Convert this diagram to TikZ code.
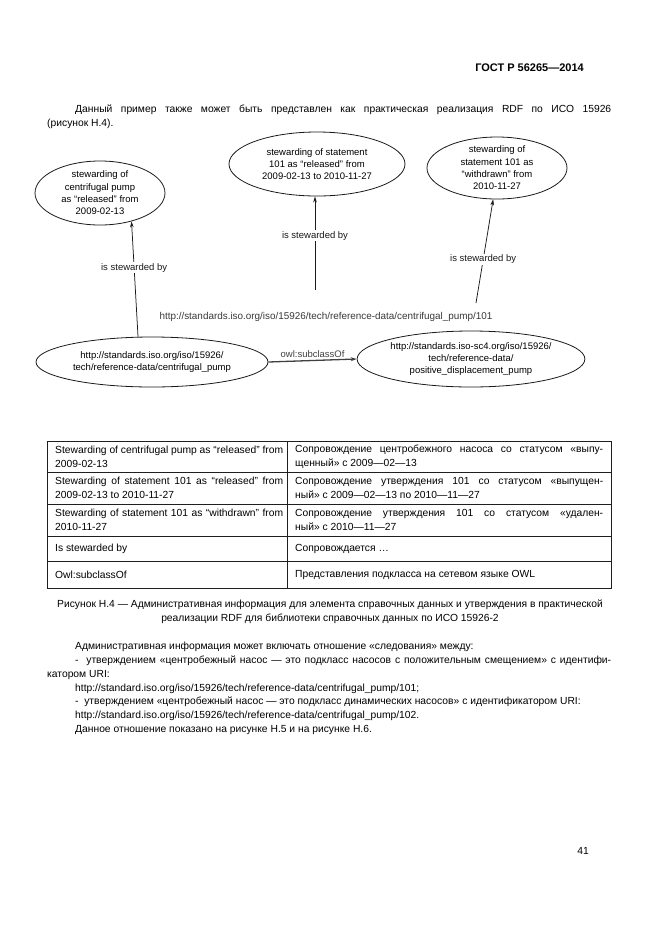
\documentclass[tikz,border=0pt]{standalone}
\usepackage{fontspec}
\setmainfont{Liberation Sans}
\usetikzlibrary{arrows.meta,shapes.geometric,positioning}
\definecolor{inkCol}{HTML}{1A1A1A}
\definecolor{uriCol}{HTML}{383838}
\definecolor{ruleCol}{HTML}{1F1F1F}
\newcommand{\dgfont}{\fontsize{9.5}{12.3}\selectfont}
\newcommand{\txfont}{\fontsize{10.3}{13.8}\selectfont}
\newcommand{\ind}{\hspace*{28pt}}
\tikzset{
  ent/.style={ellipse, draw=inkCol, line width=0.8pt, align=center, font=\dgfont,
              inner xsep=0pt, inner ysep=-9pt},
  rel/.style={-{Stealth[length=6pt,width=3.6pt]}, line width=0.75pt, inkCol},   % is stewarded by
  subarr/.style={-{Stealth[length=6pt,width=4pt]}, line width=1.3pt, black!75}, % owl:subclassOf
  rlbl/.style={fill=white, font=\dgfont, inner sep=1pt},
  uri/.style={font=\fontsize{9.9}{12}\selectfont, text=uriCol, inner sep=1pt},
  para/.style={font=\txfont, text width=564pt, align=justify, inner sep=0pt, anchor=north west},
  cell/.style={font=\txfont, text width=#1, align=justify, inner sep=0pt, anchor=west},
  tbl/.style={line width=0.8pt, ruleCol},
}

\begin{document}
\begin{tikzpicture}[x=1pt,y=-1pt]
  \useasboundingbox (0,0) rectangle (661,935);
  \def\L{47}\def\M{287}\def\R{611}

  % page head and text above the figure
  \node[font=\fontsize{11}{13}\selectfont\bfseries, anchor=east, inner sep=0pt] (head) at (584,68) {ГОСТ Р 56265—2014};
  \node[para] (intro) at (\L,105) {\noindent\ind Данный пример также может быть представлен как практическая реализация RDF по ИСО 15926\linebreak (рисунок Н.4).};

  % RDF graph
  \node[ent, minimum width=130pt, minimum height=64pt] (st1) at (100,193)
    {stewarding of\\centrifugal pump\\as “released” from\\2009-02-13};
  \node[ent, minimum width=176pt, minimum height=64pt] (st2) at (317,164)
    {stewarding of statement\\101 as “released” from\\2009-02-13 to 2010-11-27};
  \node[ent, minimum width=140pt, minimum height=62pt] (st3) at (497,168)
    {stewarding of\\statement 101 as\\“withdrawn” from\\2010-11-27};
  \node[ent, minimum width=232pt, minimum height=50pt] (cp) at (152,362)
    {http://standards.iso.org/iso/15926/\\tech/reference-data/centrifugal\_pump};
  \node[ent, minimum width=210pt, minimum height=56pt] (pd) at (471,359)
    {http://standards.iso-sc4.org/iso/15926/\\tech/reference-data/\\positive\_displacement\_pump};
  \node[uri] (stmt) at (326,317) {http://standards.iso.org/iso/15926/tech/reference-data/centrifugal\_pump/101};

  \coordinate (t2) at (315,290);
  \coordinate (t3) at (476,303);
  \draw[rel] (cp.119) -- (st1.318) node[rlbl, pos=0.6] {is stewarded by};
  \draw[rel] (t2) -- (t2 |- st2.south) node[rlbl, pos=0.58] {is stewarded by};
  \draw[rel] (t3) -- (st3.263) node[rlbl, pos=0.42] {is stewarded by};
  \draw[subarr] (cp.east) -- (pd.west) node[midway, above, font=\dgfont, inner sep=2pt] {owl:subclassOf};

  % legend table
  \draw[tbl] (\L,441) rectangle (\R,588);
  \foreach \y in {472,504,536,561}{\draw[tbl] (\L,\y) -- (\R,\y);}
  \draw[tbl] (\M,441) -- (\M,588);

  \node[cell=228pt] (e1) at (\L+8,456.5) {Stewarding of centrifugal pump as “released” from\linebreak 2009-02-13};
  \node[cell=308pt] (r1) at (\M+8,456.5) {Сопровождение центробежного насоса со статусом «выпу-\linebreak щенный» с 2009—02—13};
  \node[cell=228pt] (e2) at (\L+8,488) {Stewarding of statement 101 as “released” from\linebreak 2009-02-13 to 2010-11-27};
  \node[cell=308pt] (r2) at (\M+8,488) {Сопровождение утверждения 101 со статусом «выпущен-\linebreak ный» с 2009—02—13 по 2010—11—27};
  \node[cell=228pt] (e3) at (\L+8,520) {Stewarding of statement 101 as “withdrawn” from\linebreak 2010-11-27};
  \node[cell=308pt] (r3) at (\M+8,520) {Сопровождение утверждения 101 со статусом «удален-\linebreak ный» с 2010—11—27};
  \node[cell=228pt] (e4) at (\L+8,548.5) {Is stewarded by};
  \node[cell=308pt] (r4) at (\M+8,548.5) {Сопровождается …};
  \node[cell=228pt] (e5) at (\L+8,574.5) {Owl:subclassOf};
  \node[cell=308pt] (r5) at (\M+8,574.5) {Представления подкласса на сетевом языке OWL};

  % caption and text below
  \node[font=\txfont, align=center, inner sep=0pt] (cap) at (330,612)
    {Рисунок Н.4 — Административная информация для элемента справочных данных и утверждения в практической\\
     реализации RDF для библиотеки справочных данных по ИСО 15926-2};
  \node[para] (admin) at (\L,642) {\noindent\ind Административная информация может включать отношение «следования» между:\\
    \ind -\ \ утверждением «центробежный насос — это подкласс насосов с положительным смещением» с идентифи-\linebreak катором URI:\\
    \ind http://standard.iso.org/iso/15926/tech/reference-data/centrifugal\_pump/101;\\
    \ind -\ \ утверждением «центробежный насос — это подкласс динамических насосов» с идентификатором URI:\\
    \ind http://standard.iso.org/iso/15926/tech/reference-data/centrifugal\_pump/102.\\
    \ind Данное отношение показано на рисунке Н.5 и на рисунке Н.6.};

  \node[font=\txfont, anchor=east, inner sep=0pt] (pgno) at (589,851) {41};
\end{tikzpicture}
\end{document}
